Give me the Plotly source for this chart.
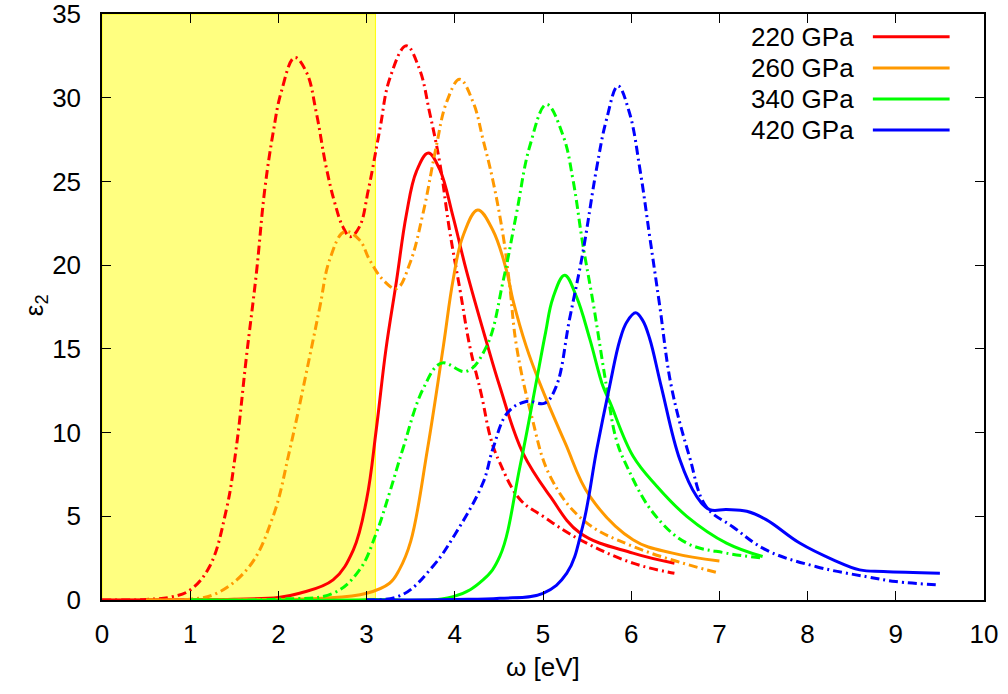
import plotly.graph_objects as go

# ---------------- data ----------------
pressures = ["220 GPa", "260 GPa", "340 GPa", "420 GPa"]
colors = ["#ff0000", "#ff9900", "#00ff00", "#0000ff"]

# 220 GPa
x220_solid = [0.0, 1.0, 1.5, 2.0, 2.24, 2.62, 2.85, 3.0, 3.11, 3.22, 3.34, 3.45, 3.565, 3.70,
              3.83, 3.98, 4.13, 4.36, 4.51, 4.77, 5.08, 5.42, 6.02, 6.49]
y220_solid = [0.0, 0.02, 0.05, 0.15, 0.4, 1.2, 3.0, 6.0, 10.2, 15.0, 19.1, 23.0, 25.6, 26.7,
              25.7, 22.9, 19.7, 15.4, 12.75, 8.8, 6.2, 4.0, 2.8, 2.2]
x220_dd = [0.0, 0.5, 0.8, 1.0, 1.22, 1.41, 1.52, 1.637, 1.75, 1.845, 1.94, 2.03, 2.185, 2.32,
           2.43, 2.54, 2.64, 2.73, 2.815, 2.92, 3.02, 3.15, 3.26, 3.45, 3.60, 3.715, 3.83,
           3.94, 4.06, 4.17, 4.30, 4.41, 4.51, 4.74, 5.0, 5.42, 6.02, 6.49]
y220_dd = [0.0, 0.03, 0.2, 0.6, 2.0, 5.4, 9.0, 14.5, 19.5, 24.5, 27.9, 30.3, 32.4, 31.5,
           29.1, 25.9, 23.7, 22.3, 21.7, 22.3, 24.5, 28.1, 31.1, 33.1, 31.7, 29.1, 26.1,
           22.1, 18.5, 15.15, 12.3, 9.6, 8.2, 6.0, 5.0, 3.6, 2.2, 1.6]

# 260 GPa
x260_solid = [0.5, 1.5, 2.5, 3.0, 3.26, 3.37, 3.5, 3.69, 3.87, 3.98, 4.09, 4.26, 4.43, 4.585,
              4.66, 4.81, 4.96, 5.25, 5.53, 6.02, 6.47, 7.0]
y260_solid = [0.0, 0.02, 0.1, 0.4, 1.0, 1.8, 3.5, 9.0, 15.15, 19.1, 21.7, 23.3, 22.1, 19.7,
              17.9, 15.15, 13.0, 9.4, 6.2, 3.6, 2.8, 2.33]
x260_dd = [0.5, 1.0, 1.30, 1.67, 1.94, 2.13, 2.355, 2.47, 2.58, 2.75, 2.92, 3.035, 3.19, 3.34,
           3.49, 3.64, 3.79, 3.905, 4.055, 4.21, 4.32, 4.43, 4.55, 4.62, 4.70, 4.87, 5.08,
           5.45, 6.02, 7.0]
y260_dd = [0.0, 0.05, 0.4, 2.0, 5.0, 9.0, 14.55, 17.5, 20.3, 22.0, 21.5, 20.3, 19.1, 18.6,
           20.1, 23.1, 27.1, 29.7, 31.1, 29.7, 27.5, 25.1, 21.7, 18.9, 15.15, 11.0, 7.4,
           4.8, 3.2, 1.6]

# 340 GPa
x340_solid = [1.0, 3.0, 3.98, 4.32, 4.51, 4.74, 4.93, 5.03, 5.11, 5.245, 5.38, 5.53, 5.68,
              5.76, 6.02, 6.29, 6.63, 7.08, 7.49]
y340_solid = [0.0, 0.02, 0.2, 1.2, 2.6, 8.0, 13.2, 16.0, 18.0, 19.4, 18.1, 15.6, 12.76,
              11.8, 8.6, 6.8, 5.0, 3.4, 2.6]
x340_dd = [1.0, 2.0, 2.62, 2.92, 3.11, 3.26, 3.41, 3.64, 3.85, 4.13, 4.36, 4.55, 4.70, 4.85,
           5.04, 5.23, 5.34, 5.45, 5.57, 5.72, 5.83, 5.95, 6.25, 6.63, 7.08, 7.49]
y340_dd = [0.0, 0.05, 0.4, 1.8, 4.0, 6.4, 9.0, 12.6, 14.15, 13.65, 15.15, 19.1, 23.1, 27.1,
           29.6, 27.7, 25.1, 21.3, 17.7, 12.76, 9.6, 8.0, 5.2, 3.4, 2.8, 2.5]

# 420 GPa
x420_solid = [3.0, 4.0, 4.51, 5.0, 5.27, 5.45, 5.61, 5.755, 5.87, 5.95, 6.05, 6.13, 6.21, 6.34,
              6.55, 6.74, 6.89, 7.08, 7.31, 7.53, 7.91, 8.29, 8.59, 8.86, 9.5]
y420_solid = [0.0, 0.03, 0.1, 0.4, 1.6, 4.4, 9.0, 12.76, 15.5, 16.6, 17.15, 16.7, 15.6, 12.76,
              8.4, 6.2, 5.4, 5.4, 5.3, 4.8, 3.4, 2.4, 1.8, 1.7, 1.6]
x420_dd = [3.0, 3.4, 3.75, 4.0, 4.32, 4.43, 4.60, 4.81, 5.02, 5.15, 5.30, 5.45, 5.605, 5.72,
           5.85, 5.98, 6.10, 6.21, 6.32, 6.455, 6.66, 6.85, 7.15, 7.53, 8.10, 8.67, 9.0, 9.5]
y420_dd = [0.0, 0.3, 2.0, 3.9, 7.0, 9.0, 11.2, 11.86, 11.76, 12.76, 16.75, 20.7, 25.7, 28.7,
           30.7, 29.1, 25.7, 21.7, 17.7, 12.76, 8.57, 5.58, 4.38, 2.99, 1.99, 1.39, 1.1, 0.9]

solid_x = [x220_solid, x260_solid, x340_solid, x420_solid]
solid_y = [y220_solid, y260_solid, y340_solid, y420_solid]
dd_x = [x220_dd, x260_dd, x340_dd, x420_dd]
dd_y = [y220_dd, y260_dd, y340_dd, y420_dd]

highlight_x = [0.0, 3.1]          # yellow shaded energy window
x_ticks = list(range(0, 11))
y_ticks = list(range(0, 36, 5))

FONT = "Liberation Sans, Arial, Helvetica, sans-serif"
FS = 26
DASHDOT = "9px,4px,2px,4px"

fig = go.Figure()
for i, name in enumerate(pressures):
    fig.add_trace(go.Scatter(x=solid_x[i], y=solid_y[i], mode="lines", name=name,
                             line=dict(color=colors[i], width=3, shape="spline", smoothing=1.1),
                             showlegend=False))
    fig.add_trace(go.Scatter(x=dd_x[i], y=dd_y[i], mode="lines", name=name + " (dash-dot)",
                             line=dict(color=colors[i], width=3, dash=DASHDOT,
                                       shape="spline", smoothing=1.1),
                             showlegend=False))

# shaded region
fig.add_shape(type="rect", xref="x", yref="y", x0=highlight_x[0], x1=highlight_x[1],
              y0=0, y1=35, fillcolor="#ffff80", line=dict(color="#ffff00", width=1),
              layer="below")

# manual legend (text left of sample line, gnuplot style)
leg_y = [0.961, 0.908, 0.855, 0.802]
for i, name in enumerate(pressures):
    fig.add_annotation(xref="paper", yref="paper", x=0.855, y=leg_y[i], text=name,
                       showarrow=False, xanchor="right", yanchor="middle",
                       font=dict(family=FONT, size=FS, color="black"))
    fig.add_shape(type="line", xref="paper", yref="paper", x0=0.874, x1=0.961,
                  y0=leg_y[i], y1=leg_y[i], line=dict(color=colors[i], width=3))

# axis titles
fig.add_annotation(xref="paper", yref="paper", x=0.5, y=-0.115, text="ω [eV]",
                   showarrow=False, xanchor="center", yanchor="middle",
                   font=dict(family=FONT, size=FS, color="black"))
fig.add_annotation(xref="paper", yref="paper", x=-0.076, y=0.503, text="ε<sub>2</sub>",
                   showarrow=False, xanchor="center", yanchor="middle", textangle=-90,
                   font=dict(family=FONT, size=FS, color="black"))

axis_common = dict(showline=True, linecolor="black", linewidth=1.5, mirror="ticks",
                   ticks="inside", ticklen=9, tickwidth=1.2, tickcolor="black",
                   showgrid=False, zeroline=False, automargin=False,
                   ticklabeloverflow="allow",
                   tickfont=dict(family=FONT, size=FS, color="black"))

fig.update_layout(
    width=1008, height=694,
    margin=dict(l=102, r=24, t=14, b=94),
    paper_bgcolor="white", plot_bgcolor="white",
    xaxis=dict(range=[0, 10], tickvals=x_ticks, ticklabelstandoff=10, **axis_common),
    yaxis=dict(range=[0, 35], tickvals=y_ticks, ticklabelstandoff=14, **axis_common),
    showlegend=False,
)

fig.write_html("out.html")
